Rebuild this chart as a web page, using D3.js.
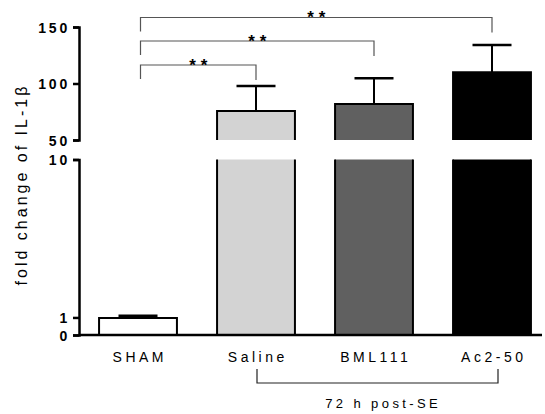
<!DOCTYPE html>
<html>
<head>
<meta charset="utf-8">
<script src="https://cdn.jsdelivr.net/npm/d3@7"></script>
<style>
  body { margin: 0; background: #fff; }
  text { font-family: "Liberation Sans", Arial, sans-serif; }
</style>
</head>
<body>
<div id="container"></div>
<script>
// data
let groups = ["SHAM", "Saline", "BML111", "Ac2-50"];
let means = [0.97, 75.7, 81.9, 109.9];
let errTops = [1.1, 97.8, 104.6, 134];
let fills = ["#ffffff", "#d3d3d3", "#606060", "#000000"];
let topTicks = [50, 100, 150];
let botTicks = [0, 1, 10];
// comparisons: SHAM vs each treated group
let comparisons = [
  {to: "Saline", label: "**", level: 0},
  {to: "BML111", label: "**", level: 1},
  {to: "Ac2-50", label: "**", level: 2}
];

let w = 545;
let h = 414;
let axisX = 79;

let viz = d3.select("#container")
  .append("svg")
    .attr("width", w)
    .attr("height", h)
    .style("background-color", "white");

let xScale = d3.scaleBand().domain(groups).range([79, 551])
  .paddingInner(0.34).paddingOuter(0.17);

// broken y axis: two linear pieces
let yTop = d3.scaleLinear().domain([50, 150]).range([140, 27]);
let yBot = d3.scaleLinear().domain([0, 10]).range([335, 159.5]);

// bars
groups.forEach(function(g, i){
  let x0 = xScale(g);
  let bw = xScale.bandwidth();
  let v = means[i];
  let gEl = viz.append("g");
  if (v <= 10) {
    gEl.append("rect")
      .attr("x", x0).attr("y", yBot(v))
      .attr("width", bw).attr("height", yBot(0) - yBot(v))
      .attr("fill", fills[i]);
    gEl.append("path")
      .attr("d", "M" + x0 + "," + yBot(0) + "V" + yBot(v) + "H" + (x0 + bw) + "V" + yBot(0))
      .attr("fill", "none").attr("stroke", "black").attr("stroke-width", 2);
  } else {
    gEl.append("rect")
      .attr("x", x0).attr("y", yBot(10))
      .attr("width", bw).attr("height", yBot(0) - yBot(10))
      .attr("fill", fills[i]);
    gEl.append("rect")
      .attr("x", x0).attr("y", yTop(v))
      .attr("width", bw).attr("height", yTop(50) - yTop(v))
      .attr("fill", fills[i]);
    gEl.append("path")
      .attr("d", "M" + x0 + "," + yBot(0) + "V" + yBot(10) +
                 "M" + (x0 + bw) + "," + yBot(0) + "V" + yBot(10) +
                 "M" + x0 + "," + yTop(50) + "V" + yTop(v) + "H" + (x0 + bw) + "V" + yTop(50))
      .attr("fill", "none").attr("stroke", "black").attr("stroke-width", 2);
  }
  // error bar (upper whisker only)
  let cx = x0 + bw / 2;
  let ys = v <= 10 ? yBot : yTop;
  let capHalf = 19.5;
  gEl.append("line")
    .attr("x1", cx).attr("x2", cx)
    .attr("y1", ys(v)).attr("y2", ys(errTops[i]))
    .attr("stroke", "black").attr("stroke-width", 2);
  gEl.append("line")
    .attr("x1", cx - capHalf).attr("x2", cx + capHalf)
    .attr("y1", ys(errTops[i])).attr("y2", ys(errTops[i]))
    .attr("stroke", "black").attr("stroke-width", 2.5);
});

// baseline
viz.append("line")
  .attr("x1", axisX).attr("x2", 542)
  .attr("y1", yBot(0)).attr("y2", yBot(0))
  .attr("stroke", "black").attr("stroke-width", 2.5);

// y axes
function styleAxis(sel){
  sel.select(".domain").attr("stroke-width", 2.5);
  sel.selectAll(".tick line").attr("stroke-width", 2.5);
  sel.selectAll(".tick text")
    .attr("font-size", "14px")
    .attr("font-weight", "bold")
    .attr("font-family", "Liberation Sans, Arial, sans-serif")
    .attr("letter-spacing", "2.8px")
    .attr("x", -9)
    .attr("dy", "0.36em");
}
let topAxis = viz.append("g")
  .attr("transform", "translate(" + axisX + ",0)")
  .call(d3.axisLeft(yTop).tickValues(topTicks).tickSize(6).tickSizeOuter(6));
styleAxis(topAxis);
let botAxis = viz.append("g")
  .attr("transform", "translate(" + axisX + ",0)")
  .call(d3.axisLeft(yBot).tickValues(botTicks).tickSize(6).tickSizeOuter(6));
styleAxis(botAxis);

// y axis title
viz.append("text")
  .attr("transform", "translate(27,186) rotate(-90)")
  .attr("text-anchor", "middle")
  .attr("font-size", "16px")
  .attr("letter-spacing", "3px")
  .attr("dx", 1.5)
  .attr("fill", "black")
  .text("fold change of IL-1\u03B2");

// x labels
viz.selectAll(".xlab")
  .data(groups)
  .enter()
  .append("text")
    .attr("class", "xlab")
    .attr("x", function(d){ return xScale(d) + xScale.bandwidth() / 2 + 1.8; })
    .attr("y", 362)
    .attr("text-anchor", "middle")
    .attr("font-size", "14px")
    .attr("letter-spacing", "3.5px")
    .text(function(d){ return d; });

// significance brackets
let leftX = xScale("SHAM") + xScale.bandwidth() / 2 + 2.5;
let levelY = [65, 41, 17.5];
comparisons.forEach(function(c){
  let rx = xScale(c.to) + xScale.bandwidth() / 2;
  let y = levelY[c.level];
  viz.append("path")
    .attr("d", "M" + leftX + "," + (y + 14) + "V" + y + "H" + rx + "V" + (y + 15))
    .attr("fill", "none").attr("stroke", "#555").attr("stroke-width", 1.2);
  viz.append("text")
    .attr("x", (leftX + rx) / 2 + 2.5)
    .attr("y", y + 5.5)
    .attr("text-anchor", "middle")
    .attr("font-size", "17px")
    .attr("font-weight", "bold")
    .attr("letter-spacing", "5px")
    .text(c.label);
});

// bottom group bracket
let bx1 = xScale("Saline") + xScale.bandwidth() / 2 + 1;
let bx2 = xScale("Ac2-50") + xScale.bandwidth() / 2 + 6;
viz.append("path")
  .attr("d", "M" + bx1 + ",369V383H" + bx2 + "V369")
  .attr("fill", "none").attr("stroke", "#222").attr("stroke-width", 1.2);
viz.append("text")
  .attr("x", 381.5 + 1.7)
  .attr("y", 408)
  .attr("text-anchor", "middle")
  .attr("font-size", "13px")
  .attr("letter-spacing", "3.4px")
  .text("72 h post-SE");
</script>
</body>
</html>
